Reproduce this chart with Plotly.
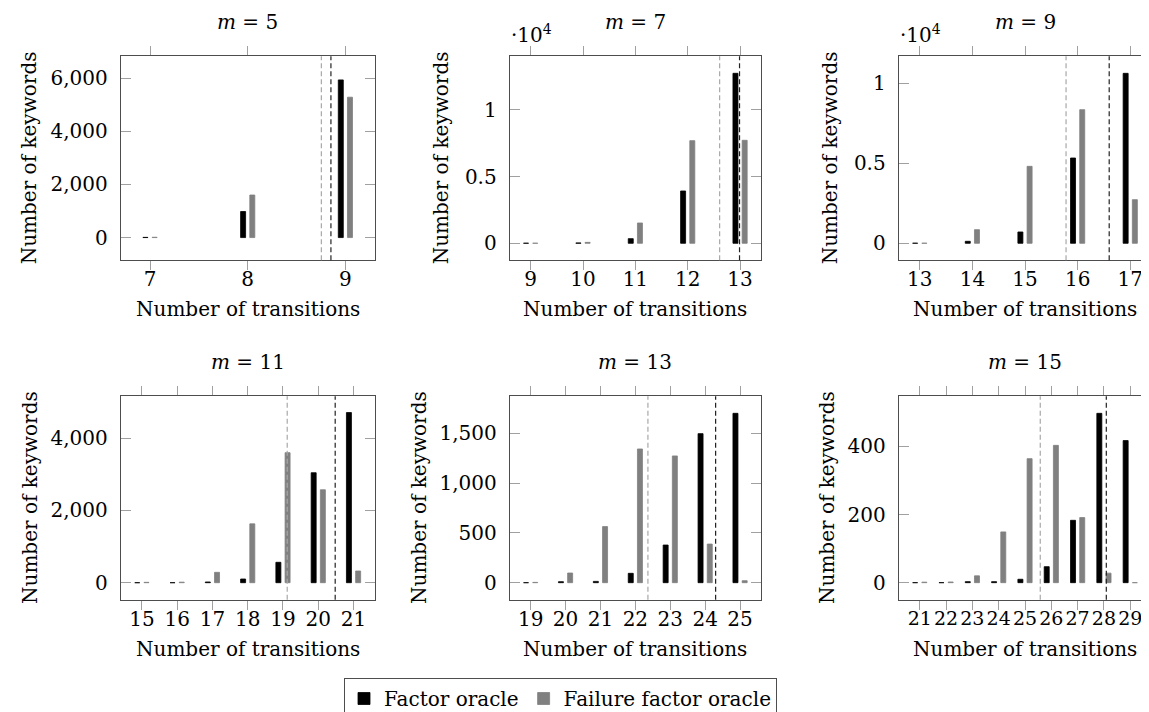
import plotly.graph_objects as go

W, H = 1149, 712

# ---------------- data ----------------
titles = ["5", "7", "9", "11", "13", "15"]

x_m5 = [7, 8, 9]
fo_m5 = [8, 980, 5930]
ffo_m5 = [12, 1600, 5280]

x_m7 = [9, 10, 11, 12, 13]
fo_m7 = [10, 30, 350, 3925, 12750]
ffo_m7 = [10, 70, 1525, 7700, 7725]

x_m9 = [13, 14, 15, 16, 17]
fo_m9 = [10, 125, 708, 5333, 10625]
ffo_m9 = [10, 854, 4812, 8354, 2729]

x_m11 = [15, 16, 17, 18, 19, 20, 21]
fo_m11 = [0, 0, 20, 102, 565, 3046, 4713]
ffo_m11 = [10, 15, 287, 1630, 3602, 2574, 324]

x_m13 = [19, 20, 21, 22, 23, 24, 25]
fo_m13 = [0, 10, 13, 94, 378, 1497, 1701]
ffo_m13 = [3, 97, 563, 1343, 1273, 388, 20]

x_m15 = [21, 22, 23, 24, 25, 26, 27, 28, 29]
fo_m15 = [0, 0, 3, 3, 10, 47, 183, 497, 417]
ffo_m15 = [1.5, 2, 20, 149, 364, 403, 191, 28, 0]

# dashed reference lines (black = Factor oracle, gray = Failure factor oracle)
fo_line = [8.852, 12.99, 16.60, 20.48, 24.30, 28.09]
ffo_line = [8.754, 12.61, 15.78, 19.12, 22.36, 25.58]

xs = [x_m5, x_m7, x_m9, x_m11, x_m13, x_m15]
fos = [fo_m5, fo_m7, fo_m9, fo_m11, fo_m13, fo_m15]
ffos = [ffo_m5, ffo_m7, ffo_m9, ffo_m11, ffo_m13, ffo_m15]

x_ranges = [[6.7, 9.3], [8.6, 13.4], [12.6, 17.4], [14.4, 21.6], [18.4, 25.6], [20.2, 29.8]]
y_ranges = [[-855, 6818], [-1275, 14025], [-1062, 11690], [-471, 5163], [-171, 1872], [-50, 547]]
y_tickvals = [[0, 2000, 4000, 6000], [0, 5000, 10000], [0, 5000, 10000],
              [0, 2000, 4000], [0, 500, 1000, 1500], [0, 200, 400]]
y_ticktext = [["0", "2,000", "4,000", "6,000"], ["0", "0.5", "1"], ["0", "0.5", "1"],
              ["0", "2,000", "4,000"], ["0", "500", "1,000", "1,500"], ["0", "200", "400"]]
sci_label = [False, True, True, False, False, False]

# ---------------- layout geometry (pixels) ----------------
cols_px = [(112.7, 366.7), (501.7, 753.0), (890.7, 1143.3)]
rows_px = [(48.3, 252.3), (388.3, 591.7)]

FONT = "DejaVu Serif"
FS = 20
BLACK = "#000000"
GRAY = "#808080"
FRAME = "#4d4d4d"
TICK = "#a0a0a0"

bar_px = 5.0
off_px = 4.6

fig = go.Figure()
layout = dict(
    width=W, height=H,
    margin=dict(l=0, r=0, t=0, b=0),
    plot_bgcolor="white", paper_bgcolor="white",
    font=dict(family=FONT, size=FS, color="black"),
    barmode="overlay",
    showlegend=True,
    legend=dict(orientation="h", x=336 / W, y=1 - 670 / H, xanchor="left", yanchor="top",
                bordercolor=FRAME, borderwidth=1, font=dict(size=FS, family=FONT),
                itemwidth=30, tracegroupgap=0, bgcolor="white"),
)
annotations = []
shapes = []

for i in range(6):
    r, c = divmod(i, 3)
    x0p, x1p = cols_px[c]
    ytp, ybp = rows_px[r]
    xa = "xaxis" if i == 0 else f"xaxis{i+1}"
    ya = "yaxis" if i == 0 else f"yaxis{i+1}"
    xref = "x" if i == 0 else f"x{i+1}"
    yref = "y" if i == 0 else f"y{i+1}"
    xr = x_ranges[i]
    unit = (x1p - x0p) / (xr[1] - xr[0])
    bw = bar_px / unit
    off = off_px / unit

    fig.add_trace(go.Bar(
        x=xs[i], y=fos[i], xaxis=xref, yaxis=yref,
        width=bw, offset=-off - bw / 2,
        marker=dict(color=BLACK, line=dict(color=BLACK, width=0.8)),
        name="Factor oracle", showlegend=(i == 0), legendgroup="fo"))
    fig.add_trace(go.Bar(
        x=xs[i], y=ffos[i], xaxis=xref, yaxis=yref,
        width=bw, offset=off - bw / 2,
        marker=dict(color=GRAY, line=dict(color=GRAY, width=0.8)),
        name="Failure factor oracle", showlegend=(i == 0), legendgroup="ffo"))

    layout[xa] = dict(
        domain=[x0p / W, x1p / W], range=xr, anchor=yref,
        tickvals=xs[i], ticktext=[str(v) for v in xs[i]], tickangle=0,
        ticks="outside", ticklen=9, tickcolor=TICK, tickwidth=1,
        showline=True, linecolor=FRAME, linewidth=1, mirror="ticks",
        showgrid=False, zeroline=False, ticklabelstandoff=-8,
        tickfont=dict(size=FS if i != 5 else 19, family=FONT, color="black"), fixedrange=True)
    layout[ya] = dict(
        domain=[1 - ybp / H, 1 - ytp / H], range=y_ranges[i], anchor=xref,
        tickvals=y_tickvals[i], ticktext=y_ticktext[i],
        ticks="inside", ticklen=10, tickcolor=TICK, tickwidth=1,
        showline=True, linecolor=FRAME, linewidth=1, mirror="ticks",
        showgrid=False, zeroline=False, ticklabelstandoff=8,
        tickfont=dict(size=FS, family=FONT, color="black"), fixedrange=True)

    # dashed vertical lines
    shapes.append(dict(type="line", xref=xref, yref=f"{yref} domain",
                       x0=ffo_line[i], x1=ffo_line[i], y0=0, y1=1,
                       line=dict(color="#a8a8a8", width=1.2, dash="5px,3px")))
    shapes.append(dict(type="line", xref=xref, yref=f"{yref} domain",
                       x0=fo_line[i], x1=fo_line[i], y0=0, y1=1,
                       line=dict(color="#222222", width=1.2, dash="5px,3px")))

    cx = (x0p + x1p) / 2
    cy = (ytp + ybp) / 2
    # title
    annotations.append(dict(text=f"<i>m</i> = {titles[i]}", xref="paper", yref="paper",
                            x=cx / W, y=1 - (ytp - 34) / H, xanchor="center", yanchor="middle",
                            showarrow=False, font=dict(size=FS, family=FONT)))
    # x title
    annotations.append(dict(text="Number of transitions", xref="paper", yref="paper",
                            x=cx / W, y=1 - (ybp + 49) / H, xanchor="center", yanchor="middle",
                            showarrow=False, font=dict(size=FS, family=FONT)))
    # y title
    ytx = [[21, 433, 822], [22, 411, 819]][r][c]
    annotations.append(dict(text="Number of keywords", xref="paper", yref="paper",
                            x=ytx / W, y=1 - cy / H, xanchor="center", yanchor="middle",
                            textangle=-90, showarrow=False, font=dict(size=FS, family=FONT)))
    if sci_label[i]:
        annotations.append(dict(text="·10<sup>4</sup>", xref="paper", yref="paper",
                                x=(x0p - 1) / W, y=1 - (ytp - 7) / H, xanchor="left", yanchor="bottom",
                                showarrow=False, font=dict(size=FS, family=FONT)))

layout["annotations"] = annotations
layout["shapes"] = shapes
fig.update_layout(**layout)
fig.write_html("out.html")
